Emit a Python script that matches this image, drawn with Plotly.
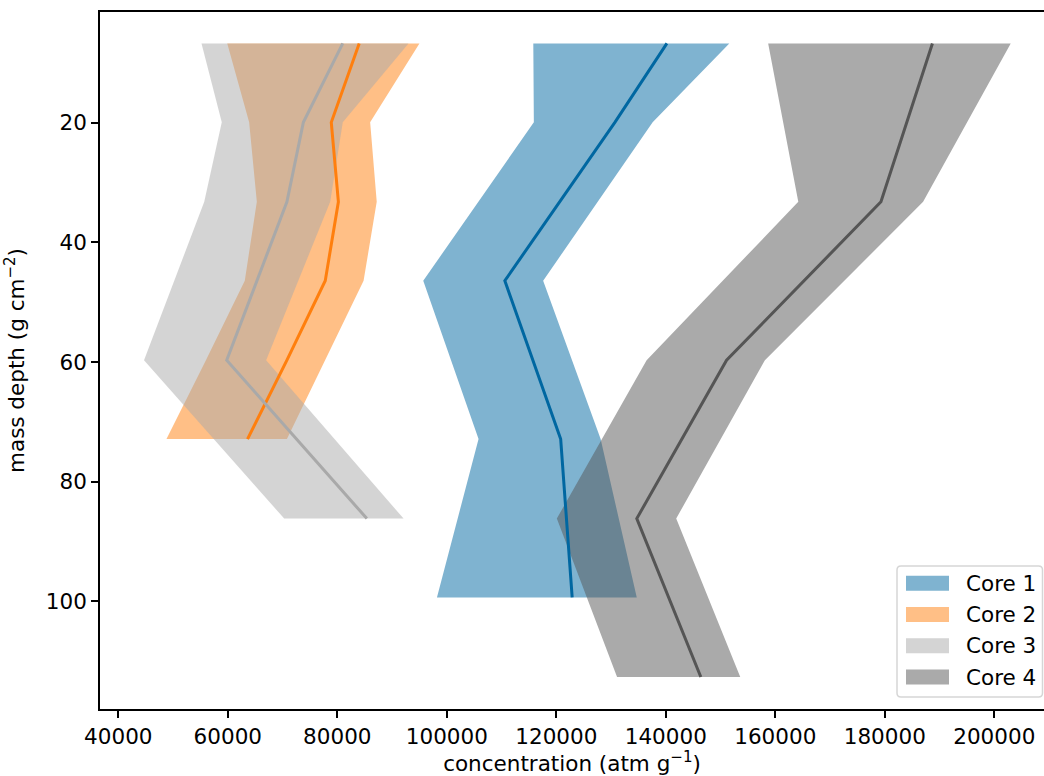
import plotly.graph_objects as go

# Depth-profile data: mass depth (g cm^-2) with mean concentration and envelope
core_names = ["Core 1", "Core 2", "Core 3", "Core 4"]

core1_depth = [6.7, 19.9, 46.4, 72.9, 99.4]
core1_mean = [140200, 130700, 110600, 120800, 122900]
core1_low = [115800, 115900, 95700, 105800, 98200]
core1_high = [151600, 137600, 117600, 128100, 134700]

core2_depth = [6.7, 19.9, 33.2, 46.4, 59.7, 72.9]
core2_mean = [84000, 78900, 80200, 77800, 70800, 63600]
core2_low = [59900, 63900, 65300, 63100, 56000, 48800]
core2_high = [95000, 86000, 87200, 84800, 77700, 70800]

core3_depth = [6.7, 19.9, 33.2, 59.7, 86.2]
core3_mean = [81000, 73800, 70800, 59800, 85400]
core3_low = [55200, 58900, 55700, 44700, 70300]
core3_high = [93000, 81000, 78700, 67000, 92100]

core4_depth = [6.7, 33.2, 59.7, 86.2, 112.7]
core4_mean = [188700, 179300, 151100, 134700, 146400]
core4_low = [158700, 164200, 136500, 120100, 131100]
core4_high = [203000, 187000, 158100, 141900, 153600]

x_ticks = [40000, 60000, 80000, 100000, 120000, 140000, 160000, 180000, 200000]
y_ticks = [20, 40, 60, 80, 100]

core_colors = [(0, 103, 161), (255, 127, 14), (169, 169, 169), (85, 85, 85)]

cores = [
    (core1_depth, core1_mean, core1_low, core1_high),
    (core2_depth, core2_mean, core2_low, core2_high),
    (core3_depth, core3_mean, core3_low, core3_high),
    (core4_depth, core4_mean, core4_low, core4_high),
]


def rgba(c, a):
    return f"rgba({c[0]},{c[1]},{c[2]},{a})"


FONT = "DejaVu Sans"
FS = 21.5
W, H = 1044, 776
PL, PR, PT, PB = 100, 1044, 12, 709

fig = go.Figure()

# shaded envelopes first, so every mean line sits on top of all fills
for (d, m, lo, hi), col, name in zip(cores, core_colors, core_names):
    fig.add_trace(go.Scatter(
        x=list(lo) + list(hi)[::-1],
        y=list(d) + list(d)[::-1],
        fill="toself", fillcolor=rgba(col, 0.5),
        line=dict(width=0), mode="lines",
        hoverinfo="skip", showlegend=False, name=name,
    ))

for (d, m, lo, hi), col, name in zip(cores, core_colors, core_names):
    fig.add_trace(go.Scatter(
        x=m, y=d, mode="lines",
        line=dict(color=rgba(col, 1), width=3),
        showlegend=False, name=name,
    ))


def px_x(p):
    return (p - PL) / (PR - PL)


def px_y(p):
    return (PB - p) / (PB - PT)


# legend frame with rounded corners
lx0, lx1, ly0, ly1, r = 897, 1042.5, 566, 697, 4
path = (
    f"M {px_x(lx0 + r)},{px_y(ly0)} L {px_x(lx1 - r)},{px_y(ly0)} "
    f"Q {px_x(lx1)},{px_y(ly0)} {px_x(lx1)},{px_y(ly0 + r)} "
    f"L {px_x(lx1)},{px_y(ly1 - r)} "
    f"Q {px_x(lx1)},{px_y(ly1)} {px_x(lx1 - r)},{px_y(ly1)} "
    f"L {px_x(lx0 + r)},{px_y(ly1)} "
    f"Q {px_x(lx0)},{px_y(ly1)} {px_x(lx0)},{px_y(ly1 - r)} "
    f"L {px_x(lx0)},{px_y(ly0 + r)} "
    f"Q {px_x(lx0)},{px_y(ly0)} {px_x(lx0 + r)},{px_y(ly0)} Z"
)
shapes = [dict(type="path", path=path, xref="paper", yref="paper",
               fillcolor="rgba(255,255,255,0.8)",
               line=dict(color="rgba(204,204,204,0.8)", width=1.5), layer="above")]
annotations = []
row0, row_gap = 583.2, 31.3
for i, (name, col) in enumerate(zip(core_names, core_colors)):
    yc = row0 + i * row_gap
    shapes.append(dict(type="rect", xref="paper", yref="paper",
                       x0=px_x(906), x1=px_x(949), y0=px_y(yc + 7.5), y1=px_y(yc - 7.5),
                       fillcolor=rgba(col, 0.5), line=dict(width=0), layer="above"))
    annotations.append(dict(text=name, xref="paper", yref="paper",
                            x=px_x(964), y=px_y(yc), xanchor="left", yanchor="middle",
                            showarrow=False, font=dict(family=FONT, size=FS, color="black")))

fig.update_layout(
    width=W, height=H,
    margin=dict(l=PL, r=W - PR, t=PT, b=H - PB, autoexpand=False),
    paper_bgcolor="white", plot_bgcolor="white",
    font=dict(family=FONT, size=FS, color="black"),
    showlegend=False,
    shapes=shapes, annotations=annotations,
)

fig.update_xaxes(
    range=[36657, 209080], tickvals=x_ticks, ticktext=[str(v) for v in x_ticks],
    showgrid=False, zeroline=False,
    showline=True, linecolor="black", linewidth=1.7, mirror=True,
    ticks="outside", ticklen=7, tickwidth=1.7, tickcolor="black",
    title=dict(text="concentration (atm g<sup>−1</sup>)", standoff=8,
               font=dict(family=FONT, size=FS)),
)
fig.update_yaxes(
    range=[118.06, 1.44], tickvals=y_ticks, ticktext=[str(v) for v in y_ticks],
    showgrid=False, zeroline=False,
    showline=True, linecolor="black", linewidth=1.7,
    ticks="outside", ticklen=7, tickwidth=1.7, tickcolor="black",
    title=dict(text="mass depth (g cm<sup>−2</sup>)", standoff=15,
               font=dict(family=FONT, size=FS)),
)

fig.write_html("out.html")
